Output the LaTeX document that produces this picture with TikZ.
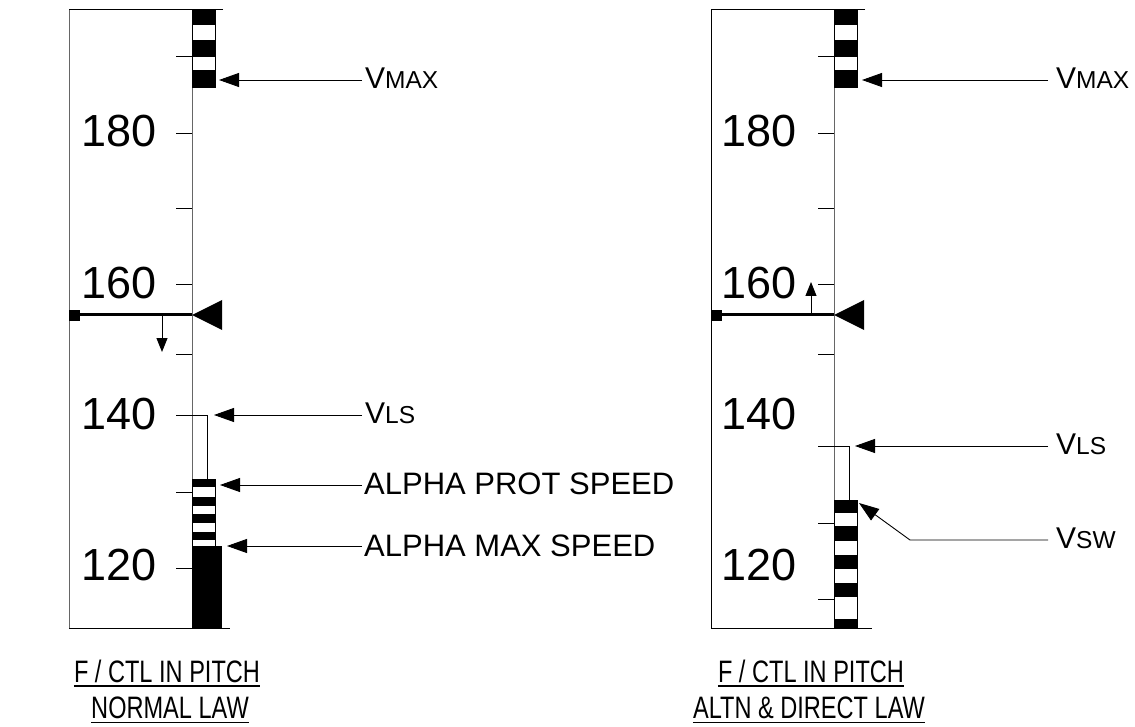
\documentclass[tikz,border=0pt]{standalone}
\usepackage{fontspec}
\usepackage{graphicx}
\setmainfont{Liberation Sans}
\usetikzlibrary{arrows.meta}
\newcommand{\Vsub}[1]{{\fontsize{30}{30}\selectfont V}{\fontsize{24.5}{24.5}\selectfont #1}}
\newcommand{\condensed}[1]{\scalebox{0.76}[1]{#1}}
\begin{document}
\begin{tikzpicture}[x=1pt,y=-1pt,
  frame/.style={draw=black!60, line width=1pt},
  edge/.style={draw=black, line width=1pt},
  tick/.style={draw=black, line width=1pt},
  lab/.style={draw=black, line width=0.9pt, -{Triangle[length=20pt,width=14pt]}},
  lbl/.style={anchor=west, inner sep=0pt, font=\fontsize{31}{31}\selectfont},
  num/.style={anchor=east, inner sep=0pt, font=\fontsize{45}{45}\selectfont},
  ttl/.style={inner sep=0pt, text depth=0pt, font=\fontsize{31}{31}\selectfont},
  uline/.style={line width=1.8pt},
  spd/.style={line width=3pt},
  trend/.style={line width=1pt, -{Triangle[length=14pt,width=11pt]}},
  vls/.style={line width=1pt},
]
\useasboundingbox (0,0) rectangle (1135,727);

% ---------------- LEFT PANEL ----------------
\draw[edge] (223,10) -- (69,10);
\draw[frame] (69,10) -- (69,628);
\draw[edge] (69,628) -- (230,628);
\draw[frame] (192,10) -- (192,628);
\foreach \y in {57,134,209,285,354,415,492,568} \draw[tick] (176,\y) -- (192,\y);
% top stripes
\draw[line width=0.8pt] (192,10) rectangle (215,87);
\fill (192,10) rectangle (215,25);
\fill (192,40) rectangle (215,57);
\fill (192,70) rectangle (215,87);
% VLS
\draw[vls] (192,415) -- (207,415) -- (207,479);
% alpha prot stripes
\draw[line width=0.8pt] (192,479) rectangle (215,546);
\fill (192,479) rectangle (215,487);
\fill (192,497) rectangle (215,506);
\fill (192,514) rectangle (215,523);
\fill (192,532) rectangle (215,540);
% alpha max
\fill (192,546) rectangle (222,628);
% speed marker
\draw[spd] (69,315) -- (192,315);
\fill (69,310) rectangle (80,321);
\fill (192,315) -- (222,300) -- (222,330) -- cycle;
\draw[trend] (162,316) -- (162,352);
% numbers
\node[num] (l180) at (157,131) {180};
\node[num] (l160) at (157,283) {160};
\node[num] (l140) at (157,414) {140};
\node[num] (l120) at (157,565) {120};
% labels
\node[lbl] (lvmax) at (365,78) {\Vsub{MAX}};
\coordinate (lvmaxt) at (219,80);
\draw[lab] ([xshift=-3pt,yshift=-2pt]lvmax.west) -- (lvmaxt);
\node[lbl] (lvls) at (365,413) {\Vsub{LS}};
\coordinate (lvlst) at (214,415);
\draw[lab] ([xshift=-3pt,yshift=-2pt]lvls.west) -- (lvlst);
\node[lbl] (lprot) at (364,484) {ALPHA PROT SPEED};
\coordinate (lprott) at (220,485);
\draw[lab] ([xshift=-2pt,yshift=-1pt]lprot.west) -- (lprott);
\node[lbl] (lmax) at (364,546) {ALPHA MAX SPEED};
\coordinate (lmaxt) at (227,546);
\draw[lab] ([xshift=-2pt]lmax.west) -- (lmaxt);
% title
\node[ttl] (lt1) at (167,671) {\condensed{F / CTL IN PITCH}};
\draw[uline] ([yshift=-3.5pt]lt1.south west) -- ([yshift=-3.5pt]lt1.south east);
\node[ttl] (lt2) at (170,708) {\condensed{NORMAL LAW}};
\draw[uline] ([yshift=-3.5pt]lt2.south west) -- ([yshift=-3.5pt]lt2.south east);

% ---------------- RIGHT PANEL ----------------
\draw[edge] (865,10) -- (711,10);
\draw[edge] (711,10) -- (711,628);
\draw[edge] (711,628) -- (872,628);
\draw[frame] (834,10) -- (834,628);
\foreach \y in {57,134,209,285,354,446,523,599} \draw[tick] (818,\y) -- (834,\y);
% top stripes
\draw[line width=0.8pt] (834,10) rectangle (857,87);
\fill (834,10) rectangle (857,25);
\fill (834,40) rectangle (857,57);
\fill (834,70) rectangle (857,87);
% VLS
\draw[vls] (834,446) -- (849,446) -- (849,500);
% VSW stripes
\draw[line width=0.8pt] (834,500) rectangle (857,628);
\fill (834,500) rectangle (857,513);
\fill (834,526) rectangle (857,541);
\fill (834,555) rectangle (857,569);
\fill (834,583) rectangle (857,597);
\fill (834,619) rectangle (857,628);
% speed marker
\draw[spd] (711,315) -- (834,315);
\fill (711,310) rectangle (722,321);
\fill (834,315) -- (864,300) -- (864,330) -- cycle;
\draw[trend] (811,314) -- (811,282);
% numbers
\node[num] (r180) at (797,131) {180};
\node[num] (r160) at (797,283) {160};
\node[num] (r140) at (797,414) {140};
\node[num] (r120) at (797,565) {120};
% labels
\node[lbl] (rvmax) at (1056,78) {\Vsub{MAX}};
\coordinate (rvmaxt) at (862,80);
\draw[lab] ([xshift=-8pt,yshift=-2pt]rvmax.west) -- (rvmaxt);
\node[lbl] (rvls) at (1056,444) {\Vsub{LS}};
\coordinate (rvlst) at (855,446);
\draw[lab] ([xshift=-8pt,yshift=-2pt]rvls.west) -- (rvlst);
\node[lbl] (rvsw) at (1056,538) {\Vsub{SW}};
\coordinate (rvswk) at (910,540);
\coordinate (rvswt) at (859,503);
\draw[lab] ([xshift=-8pt,yshift=-2pt]rvsw.west) -- (rvswk) -- (rvswt);
% title
\node[ttl] (rt1) at (811,671) {\condensed{F / CTL IN PITCH}};
\draw[uline] ([yshift=-3.5pt]rt1.south west) -- ([yshift=-3.5pt]rt1.south east);
\node[ttl] (rt2) at (809,708) {\condensed{ALTN \& DIRECT LAW}};
\draw[uline] ([yshift=-3.5pt]rt2.south west) -- ([yshift=-3.5pt]rt2.south east);
\end{tikzpicture}
\end{document}
